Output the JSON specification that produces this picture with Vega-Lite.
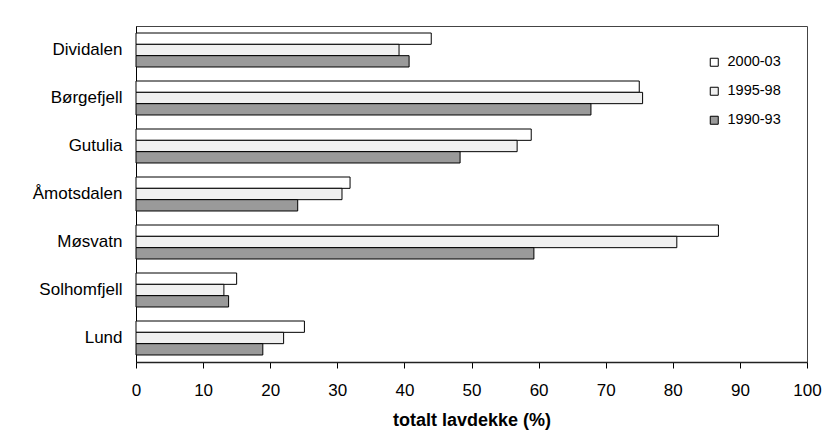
{
  "$schema": "https://vega.github.io/schema/vega-lite/v6.json",
  "width": 671,
  "height": 336,
  "autosize": {"type": "none"},
  "padding": {"left": 136, "top": 26, "right": 17, "bottom": 81},
  "background": "white",
  "config": {
    "font": "Liberation Sans",
    "view": {"stroke": "#444", "strokeWidth": 1}
  },
  "data": {
    "values": [
      {"site": "Dividalen", "period": "2000-03", "value": 44.0},
      {"site": "Dividalen", "period": "1995-98", "value": 39.2},
      {"site": "Dividalen", "period": "1990-93", "value": 40.7},
      {"site": "Børgefjell", "period": "2000-03", "value": 75.0},
      {"site": "Børgefjell", "period": "1995-98", "value": 75.5},
      {"site": "Børgefjell", "period": "1990-93", "value": 67.8},
      {"site": "Gutulia", "period": "2000-03", "value": 58.9},
      {"site": "Gutulia", "period": "1995-98", "value": 56.8},
      {"site": "Gutulia", "period": "1990-93", "value": 48.3},
      {"site": "Åmotsdalen", "period": "2000-03", "value": 31.9},
      {"site": "Åmotsdalen", "period": "1995-98", "value": 30.7},
      {"site": "Åmotsdalen", "period": "1990-93", "value": 24.1},
      {"site": "Møsvatn", "period": "2000-03", "value": 86.8},
      {"site": "Møsvatn", "period": "1995-98", "value": 80.6},
      {"site": "Møsvatn", "period": "1990-93", "value": 59.3},
      {"site": "Solhomfjell", "period": "2000-03", "value": 15.0},
      {"site": "Solhomfjell", "period": "1995-98", "value": 13.1},
      {"site": "Solhomfjell", "period": "1990-93", "value": 13.8},
      {"site": "Lund", "period": "2000-03", "value": 25.1},
      {"site": "Lund", "period": "1995-98", "value": 22.0},
      {"site": "Lund", "period": "1990-93", "value": 18.9}
    ]
  },
  "mark": {"type": "bar", "stroke": "black", "strokeWidth": 1},
  "encoding": {
    "y": {
      "field": "site",
      "type": "nominal",
      "sort": ["Dividalen", "Børgefjell", "Gutulia", "Åmotsdalen", "Møsvatn", "Solhomfjell", "Lund"],
      "scale": {"paddingInner": 0.292, "paddingOuter": 0.146},
      "axis": {
        "title": null,
        "ticks": false,
        "labelPadding": 14,
        "labelFontSize": 17,
        "labelColor": "black",
        "domainColor": "black",
        "domainWidth": 1
      }
    },
    "yOffset": {
      "field": "period",
      "type": "nominal",
      "sort": ["2000-03", "1995-98", "1990-93"],
      "scale": {"paddingInner": 0, "paddingOuter": 0}
    },
    "x": {
      "field": "value",
      "type": "quantitative",
      "scale": {"domain": [0, 100], "nice": false, "zero": true},
      "axis": {
        "title": "totalt lavdekke (%)",
        "titleFontSize": 18,
        "titleFontWeight": "bold",
        "titleColor": "black",
        "titlePadding": 13,
        "values": [0, 10, 20, 30, 40, 50, 60, 70, 80, 90, 100],
        "grid": false,
        "tickSize": 6,
        "tickColor": "black",
        "domainColor": "#222",
        "domainWidth": 1.5,
        "labelFontSize": 17,
        "labelColor": "black",
        "labelPadding": 14,
        "labelFlush": false
      }
    },
    "fill": {
      "field": "period",
      "type": "nominal",
      "sort": ["2000-03", "1995-98", "1990-93"],
      "scale": {"domain": ["2000-03", "1995-98", "1990-93"], "range": ["#ffffff", "#f0f0f0", "#9a9a9a"]},
      "legend": {
        "title": null,
        "orient": "none",
        "legendX": 571,
        "legendY": 29,
        "padding": 0,
        "symbolType": "square",
        "symbolSize": 64,
        "symbolStrokeColor": "black",
        "symbolStrokeWidth": 1,
        "labelFontSize": 14.5,
        "labelColor": "black",
        "labelOffset": 6,
        "rowPadding": 14
      }
    }
  }
}
